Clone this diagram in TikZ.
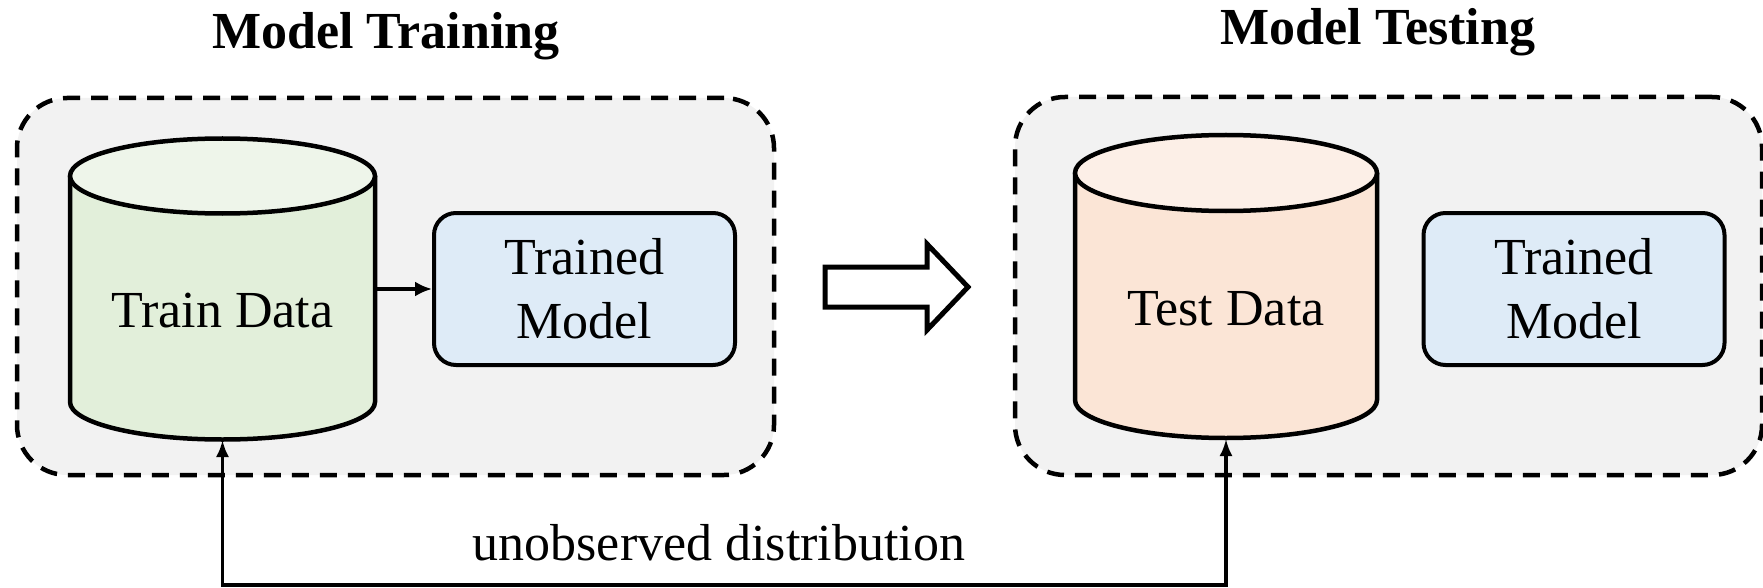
\documentclass[tikz,border=0pt]{standalone}
\usepackage{fontspec}
\setmainfont{Liberation Serif}
\usetikzlibrary{arrows.meta}
\definecolor{grayfill}{HTML}{F2F2F2}
\definecolor{greenbody}{HTML}{E2EFDA}
\definecolor{greentop}{HTML}{EEF5EA}
\definecolor{peachbody}{HTML}{FBE5D6}
\definecolor{peachtop}{HTML}{FCEFE7}
\definecolor{bluefill}{HTML}{DEEBF7}
\newcommand\drawcyl[7]{%
  \fill[#6] (#1-#2,#3) -- (#1-#2,#4) arc[start angle=180,end angle=360,x radius=#2pt,y radius=#5pt] -- (#1+#2,#3) -- cycle;
  \draw[cylline] (#1-#2,#3) -- (#1-#2,#4) arc[start angle=180,end angle=360,x radius=#2pt,y radius=#5pt] -- (#1+#2,#3);
  \draw[cylline, fill=#7] (#1,#3) ellipse[x radius=#2pt, y radius=#5pt];
}
\begin{document}
\begin{tikzpicture}[x=1pt,y=-1pt,
  txt/.style={font=\fontsize{52}{64}\selectfont, inner sep=0pt},
  ttl/.style={font=\fontsize{52}{64}\selectfont\bfseries, inner sep=0pt, anchor=base},
  panel/.style={draw, fill=grayfill, dash pattern=on 17pt off 11pt, line width=4.5pt, rounded corners=50pt, inner sep=0pt},
  modelbox/.style={draw, fill=bluefill, line width=4pt, rounded corners=22pt, minimum width=301pt, minimum height=152pt, align=center, font=\fontsize{52}{64}\selectfont, inner sep=0pt},
  cylline/.style={line width=4.5pt},
  conn/.style={line width=3.2pt}
]
\useasboundingbox (0,0) rectangle (1763,588);

% panels
\node[panel, minimum width=757pt, minimum height=377pt] (trainpanel) at (395.5,286.5) {};
\node[panel, minimum width=747pt, minimum height=378pt] (testpanel) at (1388.5,286) {};

% titles
\node[ttl] (traintitle) at (386,49) {Model Training};
\node[ttl] (testtitle) at (1378,45) {Model Testing};

% cylinders
\drawcyl{222.5}{152.5}{176}{402}{37.5}{greenbody}{greentop}
\drawcyl{1226}{151}{173}{400}{38}{peachbody}{peachtop}
\node[txt, anchor=base] (traindata) at (222.5,327) {Train Data};
\node[txt, anchor=base] (testdata) at (1226,325) {Test Data};
\coordinate (trainright) at (375,289);
\coordinate (trainbot) at (222.5,440);
\coordinate (testbot) at (1226,439);
\coordinate (bottomleft) at (222.5,585);

% model boxes
\node[modelbox] (trainmodel) at (584.5,289) {Trained\\Model};
\node[modelbox] (testmodel) at (1574,289) {Trained\\Model};

% connectors
\draw[conn, -{Latex[length=17pt,width=15pt]}] (trainright) -- (trainmodel.west);
\draw[conn, {Latex[length=17pt,width=13pt]}-{Latex[length=17pt,width=13pt]}] (trainbot) -- (bottomleft) -| (testbot);
\node[txt, anchor=base] (unobs) at (719,560.5) {unobserved distribution};

% block arrow
\draw[line width=5pt, fill=white] (825,267) -- (927,267) -- (927,244) -- (968,287) -- (927,330) -- (927,307) -- (825,307) -- cycle;
\end{tikzpicture}
\end{document}
